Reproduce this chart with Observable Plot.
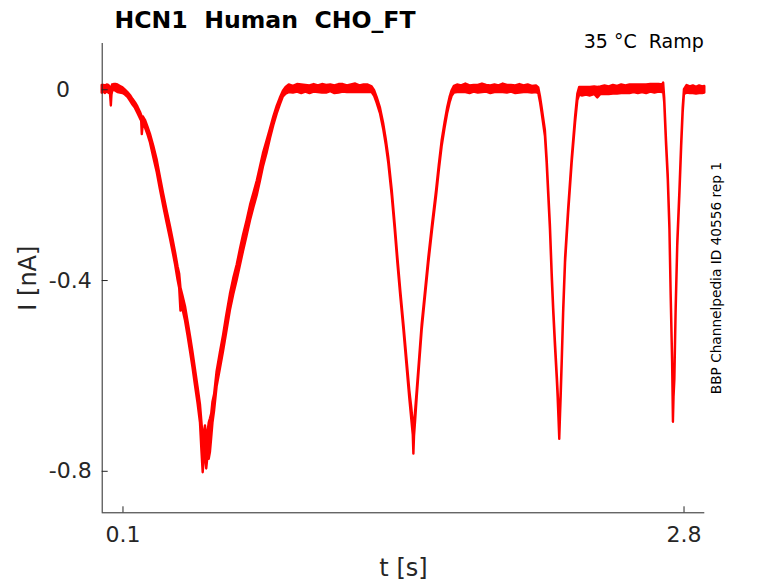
<!DOCTYPE html>
<html>
<head>
<meta charset="utf-8">
<script src="https://cdn.jsdelivr.net/npm/d3@7"></script>
<script src="https://cdn.jsdelivr.net/npm/@observablehq/plot@0.6"></script>
<style>
  html, body { margin: 0; padding: 0; background: #fff; }
  svg text { white-space: pre; }
</style>
</head>
<body>
<div id="chart"></div>
<script>
// ---- data ----
const title = "HCN1  Human  CHO_FT";
const condition = "35 °C  Ramp";
const sideNote = "BBP Channelpedia ID 40556 rep 1";
const xLabel = "t [s]";
const yLabel = "I [nA]";

const xDomain = [0, 2.9];
const yDomain = [-0.887, 0.097];
const xTicks = [0.1, 2.8];
const yTicks = [0, -0.4, -0.8];

// time (s)
const t = [
  0, 0.008, 0.016, 0.024, 0.032, 0.040, 0.044, 0.047, 0.050, 0.057, 0.066, 0.076, 0.088,
  0.100, 0.112, 0.124, 0.136, 0.148, 0.160, 0.172, 0.184, 0.190, 0.193, 0.198, 0.208, 0.220, 0.232, 0.248, 0.265, 0.280, 0.296, 0.312, 0.329, 0.341, 0.353, 0.365, 0.373, 0.379, 0.389, 0.401, 0.413, 0.425, 0.437, 0.449, 0.461, 0.473, 0.480, 0.486, 0.492, 0.497, 0.503, 0.509, 0.515, 0.521, 0.527, 0.533, 0.541, 0.553, 0.569, 0.584, 0.598, 0.617, 0.633, 0.650, 0.665, 0.680, 0.697, 0.714, 0.730, 0.746, 0.761, 0.776, 0.793, 0.810, 0.826, 0.842, 0.857, 0.872,
  0.885, 0.900, 0.920, 0.940, 0.960, 0.980, 1.000, 1.020, 1.040, 1.060, 1.080, 1.100, 1.120, 1.140, 1.160, 1.180, 1.200, 1.220, 1.240, 1.260, 1.280,
  1.299, 1.311, 1.323, 1.339, 1.355, 1.367, 1.379, 1.396, 1.410, 1.423, 1.437, 1.452, 1.466, 1.480, 1.490, 1.497, 1.500, 1.503, 1.509, 1.516, 1.528, 1.540, 1.556, 1.572, 1.590, 1.609, 1.622, 1.636, 1.650, 1.663, 1.674, 1.684,
  1.695, 1.710, 1.730, 1.750, 1.770, 1.790, 1.810, 1.830, 1.850, 1.870, 1.890, 1.910, 1.930, 1.950, 1.970, 1.990, 2.010, 2.030, 2.050, 2.070, 2.090,
  2.101, 2.109, 2.117, 2.133, 2.141, 2.149, 2.157, 2.166, 2.173, 2.181, 2.190, 2.194, 2.198, 2.202, 2.206, 2.209, 2.214, 2.221, 2.230, 2.245, 2.262, 2.278, 2.289, 2.298,
  2.310, 2.330, 2.350, 2.370, 2.385, 2.400, 2.420, 2.440, 2.460, 2.480, 2.500, 2.520, 2.540, 2.560, 2.580, 2.600, 2.620, 2.640, 2.660, 2.680, 2.697, 2.702,
  2.707, 2.716, 2.724, 2.732, 2.738, 2.745, 2.749, 2.752, 2.756, 2.762, 2.770, 2.780, 2.789, 2.796, 2.802,
  2.815, 2.830, 2.845, 2.860, 2.875, 2.890, 2.900
];

// current (nA), centre of the noisy trace
const current = [
  0.001, 0.002, 0.000, 0.003, 0.001, -0.002, -0.020, -0.004, 0.003, 0.005, 0.004, 0.002, 0.000,
  -0.002, -0.006, -0.011, -0.018, -0.026, -0.033, -0.043, -0.054, -0.060, -0.078, -0.064, -0.072, -0.086, -0.102, -0.130, -0.161, -0.196, -0.232, -0.266, -0.301, -0.327, -0.354, -0.385, -0.402, -0.440, -0.447, -0.470, -0.501, -0.533, -0.567, -0.604, -0.640, -0.680, -0.728, -0.766, -0.745, -0.732, -0.762, -0.745, -0.737, -0.725, -0.705, -0.677, -0.656, -0.607, -0.568, -0.532, -0.495, -0.446, -0.413, -0.383, -0.352, -0.322, -0.291, -0.258, -0.232, -0.207, -0.178, -0.148, -0.121, -0.092, -0.066, -0.043, -0.025, -0.009,
  -0.002, 0.002, 0.000, 0.003, 0.001, 0.002, 0.000, 0.003, 0.001, 0.002, 0.001, 0.003, 0.000, 0.002, 0.003, 0.001, 0.002, 0.003, 0.001, 0.002, 0.002,
  0.000, -0.008, -0.022, -0.044, -0.078, -0.110, -0.148, -0.218, -0.288, -0.358, -0.428, -0.498, -0.568, -0.638, -0.680, -0.712, -0.760, -0.715, -0.680, -0.638, -0.568, -0.498, -0.428, -0.358, -0.288, -0.218, -0.165, -0.113, -0.075, -0.043, -0.022, -0.008,
  0.000, 0.002, 0.001, 0.003, 0.000, 0.002, 0.001, 0.003, 0.002, 0.000, 0.002, 0.001, 0.003, 0.001, 0.002, 0.000, 0.002, 0.001, 0.002, 0.000, 0.001,
  -0.002, -0.020, -0.043, -0.092, -0.148, -0.218, -0.288, -0.393, -0.463, -0.532, -0.603, -0.638, -0.680, -0.729, -0.672, -0.637, -0.568, -0.463, -0.358, -0.253, -0.148, -0.064, -0.016, -0.003,
  -0.004, -0.003, -0.004, -0.002, -0.006, -0.002, -0.001, -0.002, 0.000, -0.001, 0.001, 0.000, 0.001, 0.002, 0.001, 0.002, 0.001, 0.003, 0.002, 0.003, 0.002, 0.005,
  -0.022, -0.113, -0.183, -0.288, -0.428, -0.568, -0.694, -0.640, -0.603, -0.463, -0.323, -0.218, -0.113, -0.043, -0.005,
  0.001, -0.001, 0.000, -0.002, 0.000, -0.001, 0.000
];

// half-width of the noise band (nA)
const noise = [
  0.008, 0.007, 0.008, 0.007, 0.008, 0.007, 0.014, 0.007, 0.007, 0.006, 0.007, 0.008, 0.007,
  0.006, 0.005, 0.005, 0.006, 0.006, 0.006, 0.007, 0.007, 0.006, 0.016, 0.007, 0.008, 0.008, 0.009, 0.012, 0.013, 0.013, 0.013, 0.013, 0.013, 0.013, 0.013, 0.014, 0.015, 0.024, 0.014, 0.015, 0.015, 0.016, 0.016, 0.017, 0.017, 0.019, 0.030, 0.037, 0.025, 0.027, 0.033, 0.025, 0.038, 0.035, 0.025, 0.022, 0.017, 0.016, 0.017, 0.017, 0.018, 0.017, 0.017, 0.016, 0.017, 0.017, 0.016, 0.016, 0.015, 0.015, 0.015, 0.014, 0.013, 0.010, 0.009, 0.008, 0.007, 0.006,
  0.007, 0.008, 0.007, 0.008, 0.009, 0.007, 0.008, 0.008, 0.007, 0.009, 0.008, 0.007, 0.008, 0.009, 0.008, 0.007, 0.008, 0.009, 0.007, 0.008, 0.008,
  0.006, 0.006, 0.006, 0.006, 0.006, 0.006, 0.006, 0.006, 0.006, 0.006, 0.006, 0.006, 0.007, 0.008, 0.012, 0.012, 0.004, 0.012, 0.010, 0.007, 0.006, 0.006, 0.006, 0.006, 0.006, 0.006, 0.006, 0.006, 0.006, 0.006, 0.006, 0.006,
  0.007, 0.008, 0.007, 0.009, 0.008, 0.007, 0.008, 0.009, 0.007, 0.008, 0.008, 0.007, 0.009, 0.008, 0.007, 0.008, 0.009, 0.007, 0.008, 0.007, 0.007,
  0.006, 0.006, 0.006, 0.006, 0.005, 0.005, 0.005, 0.005, 0.005, 0.005, 0.005, 0.006, 0.008, 0.004, 0.008, 0.006, 0.005, 0.005, 0.005, 0.005, 0.005, 0.006, 0.007, 0.008,
  0.009, 0.008, 0.009, 0.008, 0.011, 0.008, 0.009, 0.008, 0.009, 0.008, 0.009, 0.008, 0.009, 0.008, 0.009, 0.008, 0.009, 0.008, 0.009, 0.008, 0.008, 0.009,
  0.005, 0.005, 0.005, 0.005, 0.005, 0.005, 0.003, 0.005, 0.005, 0.005, 0.005, 0.005, 0.005, 0.005, 0.005,
  0.008, 0.007, 0.008, 0.007, 0.008, 0.007, 0.007
];

const rows = t.map((ti, i) => ({t: ti, lo: current[i] - noise[i], hi: current[i] + noise[i]}));

const ink = "#262626";
const fmt = d => String(d);

const chart = Plot.plot({
  width: 778,
  height: 583,
  marginLeft: 101.7,
  marginRight: 73.7,
  marginTop: 43,
  marginBottom: 70.7,
  style: {fontFamily: "DejaVu Sans", background: "#fff", overflow: "visible"},
  x: {domain: xDomain},
  y: {domain: yDomain},
  marks: [
    Plot.areaY(rows, {x: "t", y1: "lo", y2: "hi", fill: "#ff0000", stroke: "#ff0000", strokeWidth: 2.4, strokeLinejoin: "round"}),
    Plot.ruleX([xDomain[0]], {stroke: ink, strokeWidth: 1}),
    Plot.ruleY([yDomain[0]], {stroke: ink, strokeWidth: 1}),
    // x tick labels
    Plot.axisX({ticks: xTicks, tickSize: 0, tickPadding: 14, fontSize: 22, tickFormat: fmt, label: null, color: ink}),
    // inward x ticks
    Plot.axisX({ticks: xTicks, tickSize: 6, dy: -6, tickFormat: () => "", label: null, color: ink}),
    // y tick labels
    Plot.axisY({ticks: yTicks.filter(d => d !== 0), tickSize: 0, tickPadding: 10.5, fontSize: 22, tickFormat: fmt, label: null, color: ink}),
    Plot.axisY({ticks: yTicks.filter(d => d === 0), tickSize: 0, tickPadding: 32.3, fontSize: 22, tickFormat: fmt, label: null, color: ink}),
    // inward y ticks
    Plot.axisY({ticks: yTicks, tickSize: 6, dx: 6, tickFormat: () => "", label: null, color: ink}),
    // axis labels
    Plot.text([xLabel], {frameAnchor: "bottom", dy: 62.7, lineAnchor: "bottom", textAnchor: "middle", fontSize: 24, fill: ink}),
    Plot.text([yLabel], {frameAnchor: "left", dx: -66.7, rotate: -90, lineAnchor: "bottom", textAnchor: "middle", fontSize: 24, fill: ink}),
    // title and annotations
    Plot.text([title], {frameAnchor: "top-left", dx: 12.3, dy: -16, lineAnchor: "bottom", textAnchor: "start", fontSize: 23.6, fontWeight: "bold", fill: "#000"}),
    Plot.text([condition], {frameAnchor: "top-right", dx: -1, dy: 4.5, lineAnchor: "bottom", textAnchor: "end", fontSize: 19, fill: "#000"}),
    Plot.text([sideNote], {frameAnchor: "right", dx: 16.2, rotate: -90, lineAnchor: "bottom", textAnchor: "middle", fontSize: 13.7, fill: "#000"})
  ]
});

document.getElementById("chart").appendChild(chart);
</script>
</body>
</html>
